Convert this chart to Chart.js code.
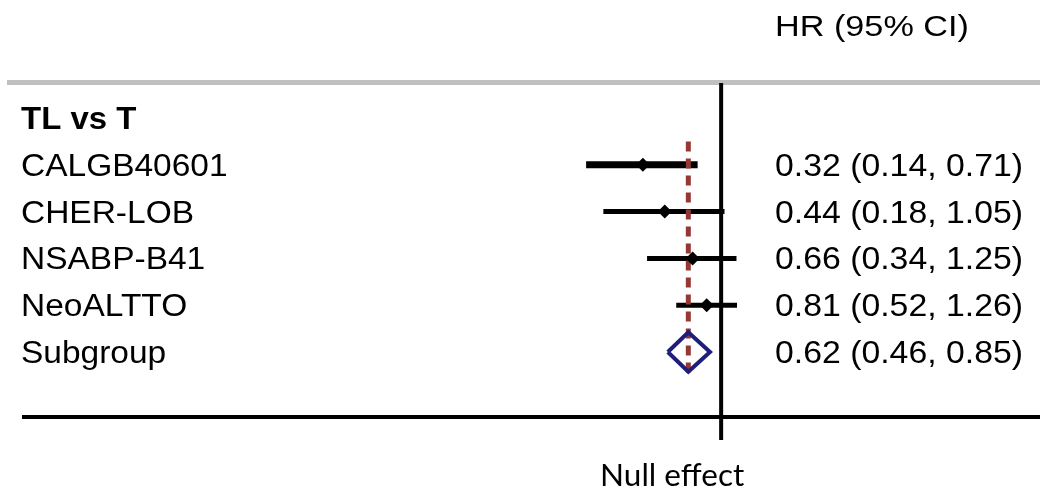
<!DOCTYPE html>
<html>
<head>
<meta charset="utf-8">
<script src="https://cdn.jsdelivr.net/npm/chart.js@4"></script>
<style>
  html, body { margin: 0; padding: 0; background: #fff; }
  canvas { display: block; }
</style>
</head>
<body>
<canvas id="forest" width="1040" height="491"></canvas>
<script>
// data
const groupLabel = 'TL vs T';
const studies = ['CALGB40601', 'CHER-LOB', 'NSABP-B41', 'NeoALTTO'];
const hr = [0.32, 0.44, 0.66, 0.81];
const lower = [0.14, 0.18, 0.34, 0.52];
const upper = [0.71, 1.05, 1.25, 1.26];
const pooledLabel = 'Subgroup';
const pooledHr = 0.62;
const pooledLower = 0.46;
const pooledUpper = 0.85;
const nullValue = 1;
const headerText = 'HR (95% CI)';
const axisText = 'Null effect';

const pooledRow = studies.length + 1;

function ciText(v, lo, hi) {
  return v.toFixed(2) + ' (' + lo.toFixed(2) + ', ' + hi.toFixed(2) + ')';
}

function drawText(ctx, text, x, y, font, sx, align) {
  ctx.save();
  ctx.font = font;
  ctx.fillStyle = '#000';
  ctx.textAlign = align || 'left';
  ctx.textBaseline = 'alphabetic';
  ctx.translate(x, y);
  ctx.scale(sx, 1);
  ctx.fillText(text, 0, 0);
  ctx.restore();
}

// rules + table text
const tablePlugin = {
  id: 'table',
  beforeDatasetsDraw(chart) {
    const ctx = chart.ctx;
    const area = chart.chartArea;
    ctx.save();
    ctx.strokeStyle = '#c0c0c0';
    ctx.lineWidth = 5;
    ctx.beginPath();
    ctx.moveTo(7, area.top - 0.5);
    ctx.lineTo(chart.width, area.top - 0.5);
    ctx.stroke();
    ctx.strokeStyle = '#000';
    ctx.lineWidth = 4;
    ctx.beginPath();
    ctx.moveTo(22, area.bottom);
    ctx.lineTo(chart.width, area.bottom);
    ctx.stroke();
    ctx.restore();
  },
  afterDraw(chart) {
    const ctx = chart.ctx;
    const xs = chart.scales.x;
    const ys = chart.scales.y;
    const area = chart.chartArea;
    const rightX = area.right + 26;
    const base = (i) => ys.getPixelForValue(i) + 11;

    drawText(ctx, headerText, rightX, 36, '29px "Liberation Sans", Arial', 1.18);
    drawText(ctx, groupLabel, 21, base(0), 'bold 32px "Liberation Sans", Arial', 1.03);

    studies.forEach((s, i) => {
      drawText(ctx, s, 21, base(i + 1), '31px "Liberation Sans", Arial', 1.08);
      drawText(ctx, ciText(hr[i], lower[i], upper[i]), rightX, base(i + 1),
        '31px "Liberation Sans", Arial', 1.09);
    });
    drawText(ctx, pooledLabel, 21, base(pooledRow), '31px "Liberation Sans", Arial', 1.08);
    drawText(ctx, ciText(pooledHr, pooledLower, pooledUpper), rightX, base(pooledRow),
      '31px "Liberation Sans", Arial', 1.09);

    drawText(ctx, axisText, xs.getPixelForValue(nullValue) - 49, 486, '30px Lato', 1.05, 'center');
  }
};

const datasets = [];

// line of no effect
datasets.push({
  type: 'line',
  data: [{ x: nullValue, y: -0.75 }, { x: nullValue, y: 6.88 }],
  borderColor: '#000',
  borderWidth: 4,
  pointRadius: 0,
  clip: false,
  order: 5
});

// confidence intervals
studies.forEach((s, i) => {
  datasets.push({
    type: 'line',
    label: s,
    data: [{ x: lower[i], y: i + 1 }, { x: upper[i], y: i + 1 }],
    borderColor: '#000',
    borderWidth: i === 0 ? 7 : 5,
    borderCapStyle: 'butt',
    pointRadius: 0,
    order: 4
  });
});

// pooled estimate reference line
datasets.push({
  type: 'line',
  data: [{ x: pooledHr, y: 0.5 }, { x: pooledHr, y: pooledRow + 0.55 }],
  borderColor: '#953735',
  borderWidth: 5,
  borderDash: [10, 7],
  borderCapStyle: 'butt',
  pointRadius: 0,
  order: 3
});

// point estimates
datasets.push({
  type: 'scatter',
  data: hr.map((v, i) => ({ x: v, y: i + 1 })),
  pointStyle: 'rectRot',
  pointRadius: 7,
  backgroundColor: '#000',
  borderColor: '#000',
  borderWidth: 0,
  order: 1
});

// pooled diamond
const dh = 0.42;
datasets.push({
  type: 'line',
  data: [
    { x: pooledLower, y: pooledRow },
    { x: pooledHr, y: pooledRow - dh },
    { x: pooledUpper, y: pooledRow },
    { x: pooledHr, y: pooledRow + dh },
    { x: pooledLower, y: pooledRow }
  ],
  borderColor: '#1f1f7a',
  borderWidth: 4,
  borderJoinStyle: 'miter',
  fill: false,
  tension: 0,
  pointRadius: 0,
  order: 2
});

new Chart(document.getElementById('forest'), {
  type: 'scatter',
  data: { datasets: datasets },
  options: {
    responsive: false,
    animation: false,
    layout: { padding: { left: 563, right: 291, top: 83, bottom: 74 } },
    plugins: {
      legend: { display: false },
      tooltip: { enabled: false }
    },
    scales: {
      x: { type: 'logarithmic', min: 0.1, max: 1.5, display: false },
      y: { type: 'linear', reverse: true, min: -0.748, max: 6.389, display: false }
    }
  },
  plugins: [tablePlugin]
});
</script>
</body>
</html>
